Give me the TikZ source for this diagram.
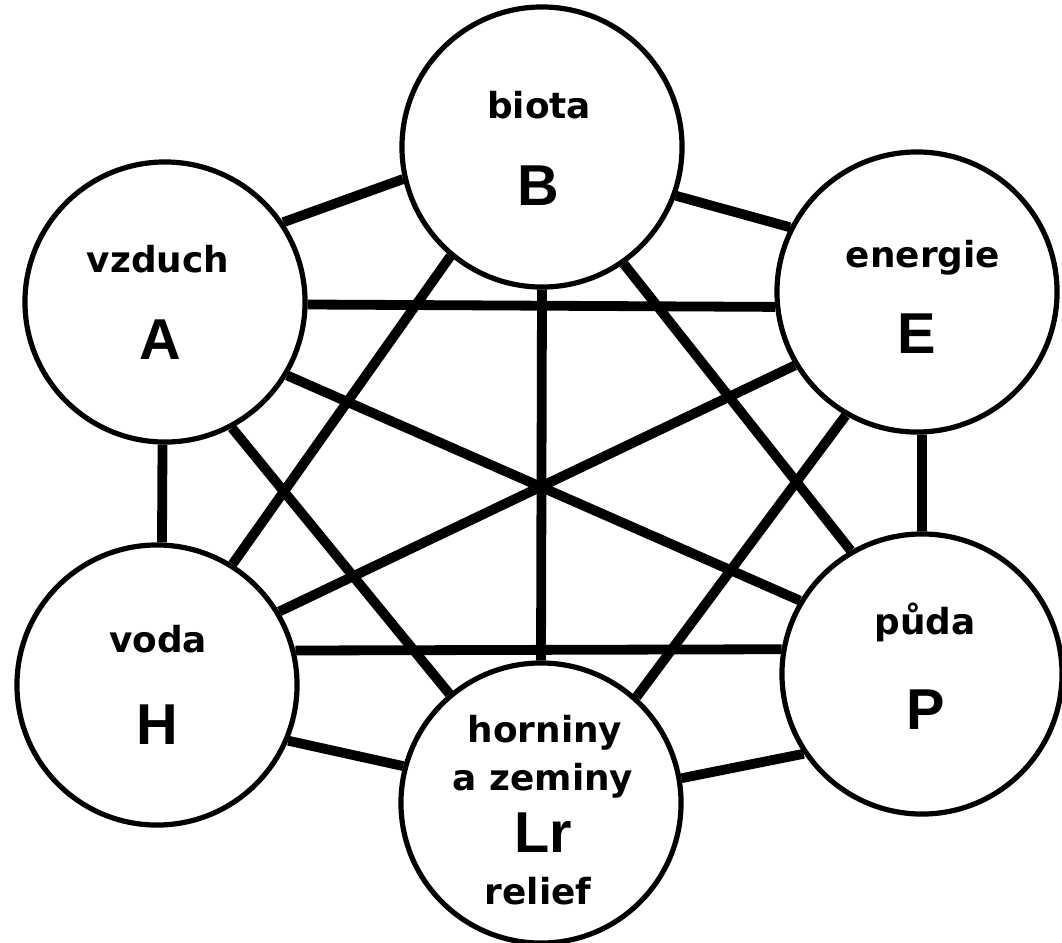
\documentclass[tikz,border=0pt]{standalone}
\usepackage{fontspec}
\setmainfont{DejaVu Sans}
\newfontfamily\letterfont{Liberation Sans}
\usepackage{tikz}

\begin{document}
\begin{tikzpicture}[x=0.025cm, y=-0.025cm,
    ring/.style={circle, draw, line width=0.13cm, fill=white, minimum size=7cm, inner sep=0pt},
    conn/.style={line width=0.245cm},
    lbl/.style={anchor=base, inner sep=0pt, font=\bfseries\fontsize{25.5}{28}\selectfont},
    sym/.style={anchor=base, inner sep=0pt, font=\letterfont\bfseries\fontsize{41}{44}\selectfont}]
  \useasboundingbox (0,0) rectangle (1062,942);
  % Components of the landscape
  \node[ring] (A) at (165,302) {};
  \node[ring] (B) at (542,147) {};
  \node[ring] (E) at (917,292) {};
  \node[ring] (H) at (157,685) {};
  \node[ring] (P) at (922,674) {};
  \node[ring] (Lr) at (541,803) {};
  % Links between every pair
  \foreach \p/\q in {A.34/B.193, A.-1/E.186, A.-91/H.88, A.-31/P.149, A.-62/Lr.130,
                     B.-20/E.153, B.230/H.58, B.-55/P.120, B.-90/Lr.90,
                     E.211/H.31, E.240/Lr.48, E.-88/P.90,
                     H.14/P.170, H.-23/Lr.165, Lr.10/P.214}
    \draw[conn] (\p) -- (\q);
  % Texts
  \node[lbl] (vzduch) at (158,272) {vzduch};
  \node[sym] (Aletter) at (160,359) {A};
  \node[lbl] (biota) at (539,118) {biota};
  \node[sym] (Bletter) at (538,205) {B};
  \node[lbl] (energie) at (923,267) {energie};
  \node[sym] (Eletter) at (917,353) {E};
  \node[lbl] (voda) at (158,652) {voda};
  \node[sym] (Hletter) at (157,744) {H};
  \node[lbl] (puda) at (925,634) {půda};
  \node[sym] (Pletter) at (926,729) {P};
  \node[lbl] (horniny) at (545,742) {horniny};
  \node[lbl] (zeminy) at (543,790) {a zeminy};
  \node[sym] (Lrletter) at (543,852) {Lr};
  \node[lbl] (relief) at (538,904) {relief};
\end{tikzpicture}
\end{document}
